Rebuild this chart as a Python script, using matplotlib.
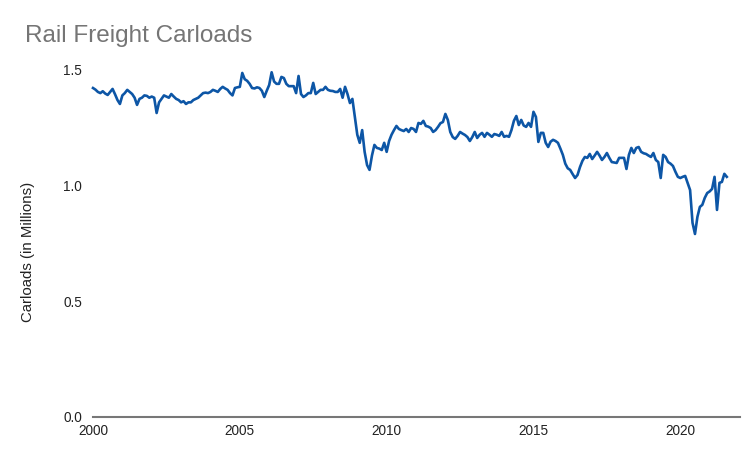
import matplotlib.pyplot as plt
import numpy as np

# monthly carloads (millions), Jan 2000 onward
carloads = [
    # 2000
    1.422, 1.415, 1.405, 1.400, 1.408, 1.398, 1.392, 1.405, 1.418, 1.395, 1.370, 1.353,
    # 2001
    1.390, 1.400, 1.414, 1.405, 1.396, 1.380, 1.349, 1.375, 1.380, 1.390, 1.388, 1.380,
    # 2002
    1.385, 1.380, 1.314, 1.360, 1.375, 1.390, 1.385, 1.380, 1.396, 1.385, 1.375, 1.370,
    # 2003
    1.360, 1.365, 1.353, 1.360, 1.360, 1.370, 1.375, 1.380, 1.390, 1.400, 1.402, 1.400,
    # 2004
    1.405, 1.414, 1.410, 1.405, 1.418, 1.427, 1.420, 1.414, 1.400, 1.390, 1.422, 1.425,
    # 2005
    1.427, 1.487, 1.460, 1.453, 1.440, 1.422, 1.420, 1.425, 1.422, 1.410, 1.383, 1.410,
    # 2006
    1.435, 1.490, 1.450, 1.440, 1.440, 1.470, 1.465, 1.440, 1.430, 1.430, 1.430, 1.400,
    # 2007
    1.474, 1.396, 1.383, 1.390, 1.400, 1.400, 1.444, 1.396, 1.405, 1.414, 1.414, 1.427,
    # 2008
    1.414, 1.410, 1.409, 1.405, 1.405, 1.418, 1.380, 1.427, 1.396, 1.357, 1.375, 1.297,
    # 2009
    1.220, 1.185, 1.240, 1.146, 1.089, 1.068, 1.130, 1.176, 1.163, 1.160, 1.154, 1.185,
    # 2010
    1.146, 1.193, 1.220, 1.240, 1.258, 1.245, 1.240, 1.236, 1.245, 1.232, 1.249, 1.245,
    # 2011
    1.232, 1.271, 1.267, 1.280, 1.258, 1.255, 1.249, 1.232, 1.240, 1.254, 1.270, 1.275,
    # 2012
    1.310, 1.284, 1.232, 1.210, 1.202, 1.215, 1.232, 1.225, 1.219, 1.210, 1.193, 1.210,
    # 2013
    1.232, 1.206, 1.220, 1.228, 1.211, 1.228, 1.220, 1.211, 1.223, 1.220, 1.215, 1.232,
    # 2014
    1.211, 1.215, 1.211, 1.240, 1.280, 1.301, 1.262, 1.284, 1.260, 1.254, 1.271, 1.254,
    # 2015
    1.319, 1.297, 1.189, 1.228, 1.228, 1.185, 1.167, 1.190, 1.198, 1.193, 1.185, 1.160,
    # 2016
    1.133, 1.095, 1.075, 1.068, 1.050, 1.033, 1.046, 1.080, 1.107, 1.124, 1.120, 1.137,
    # 2017
    1.115, 1.130, 1.146, 1.130, 1.111, 1.124, 1.141, 1.120, 1.102, 1.100, 1.098, 1.120,
    # 2018
    1.120, 1.120, 1.072, 1.133, 1.163, 1.141, 1.163, 1.167, 1.146, 1.140, 1.137, 1.130,
    # 2019
    1.124, 1.141, 1.111, 1.102, 1.033, 1.133, 1.124, 1.102, 1.095, 1.085, 1.060, 1.038,
    # 2020
    1.033, 1.038, 1.042, 1.012, 0.981, 0.839, 0.791, 0.865, 0.908, 0.917, 0.947, 0.968,
    # 2021
    0.975, 0.986, 1.038, 0.895, 1.012, 1.016, 1.051, 1.038,
]
year_ticks = [2000, 2005, 2010, 2015, 2020]
y_ticks = [0.0, 0.5, 1.0, 1.5]

years = 2000 + np.arange(len(carloads)) / 12

plt.rcParams['font.family'] = ['Liberation Sans', 'DejaVu Sans']

fig = plt.figure(figsize=(7.5, 4.63), dpi=100)
ax = fig.add_axes([0.124, 0.0994, 0.863, 0.7495])

ax.plot(years, carloads, color='#0d56a6', linewidth=1.9, clip_on=False)

ax.set_xlim(2000, 2000 + 264.5 / 12)
ax.set_ylim(0, 1.5)
ax.set_xticks(year_ticks)
ax.set_xticklabels([str(y) for y in year_ticks])
ax.set_yticks(y_ticks)
ax.set_yticklabels([f'{v:.1f}' for v in y_ticks])
ax.tick_params(length=0, labelsize=9.8, labelcolor='#222222')
ax.tick_params(axis='x', pad=5)
ax.tick_params(axis='y', pad=8)

for side in ['top', 'right', 'left']:
    ax.spines[side].set_visible(False)
ax.spines['bottom'].set_color('#777777')
ax.spines['bottom'].set_linewidth(1.5)

ax.set_ylabel('Carloads (in Millions)', fontsize=10.8, color='#222222')
ax.yaxis.set_label_coords(-0.089, 0.4755)

# title
fig.text(0.033, 1 - 42 / 463, 'Rail Freight Carloads', fontsize=17.5, color='#757575')

plt.savefig('out.png', dpi=100)
